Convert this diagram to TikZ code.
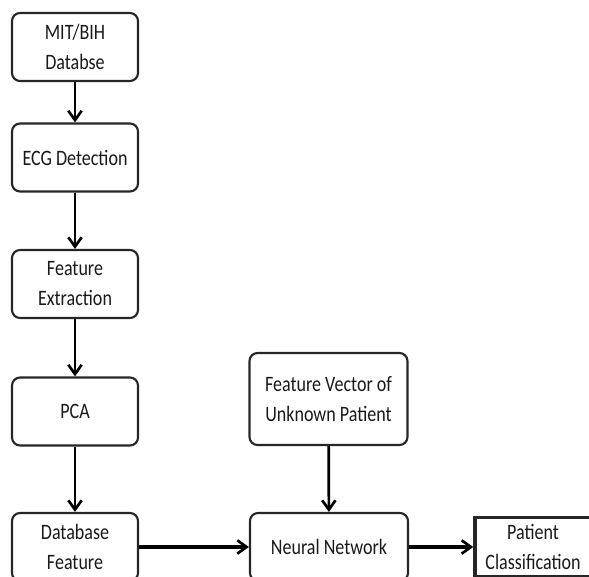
\documentclass[tikz,border=0pt]{standalone}
\usepackage{fontspec}
\setmainfont{Carlito}[FakeStretch=0.82]
\usetikzlibrary{arrows.meta}

\tikzset{
  blok/.style={draw=black!85, line width=1.6pt, rounded corners=6pt, align=center,
    minimum width=94.5pt, minimum height=51pt, inner sep=2pt,
    font=\fontsize{16.5}{22.5}\selectfont, text=black!90},
  arr/.style={line width=2pt, -{Straight Barb[length=7pt,width=10pt,line width=2pt]}},
}

\begin{document}
\begin{tikzpicture}[x=0.75pt,y=-0.75pt] %flujo de clasificacion ECG
    \useasboundingbox (0,0) rectangle (589,577);
    \clip (0,0) rectangle (589,577);

    \node[blok] (mit) at (75,47) {MIT/BIH\\Databse};
    \node[blok] (ecg) at (75,157.5) {ECG Detection};
    \node[blok] (fext) at (75,284) {Feature\\Extraction};
    \node[blok] (pca) at (75,411.5) {PCA};
    \node[blok] (dbf) at (75,547) {Database\\Feature};

    \node[blok, minimum width=118.5pt, minimum height=69pt] (fvec) at (328.5,399) {Feature Vector of\\Unknown Patient};
    \node[blok, minimum width=118.5pt] (nn) at (329,547) {Neural Network};
    \node[blok, rounded corners=0pt, line width=2.6pt, minimum width=87pt, minimum height=44pt] (pc) at (533,547) {Patient\\Classification};

    \draw[arr] (mit) -- (ecg);
    \draw[arr] (ecg) -- (fext);
    \draw[arr] (fext) -- (pca);
    \draw[arr] (pca) -- (dbf);
    \draw[arr] (fvec) -- (nn);
    \draw[arr, line width=2.6pt] (dbf) -- (nn);
    \draw[arr, line width=2.6pt] (nn) -- (pc);
\end{tikzpicture}
\end{document}
